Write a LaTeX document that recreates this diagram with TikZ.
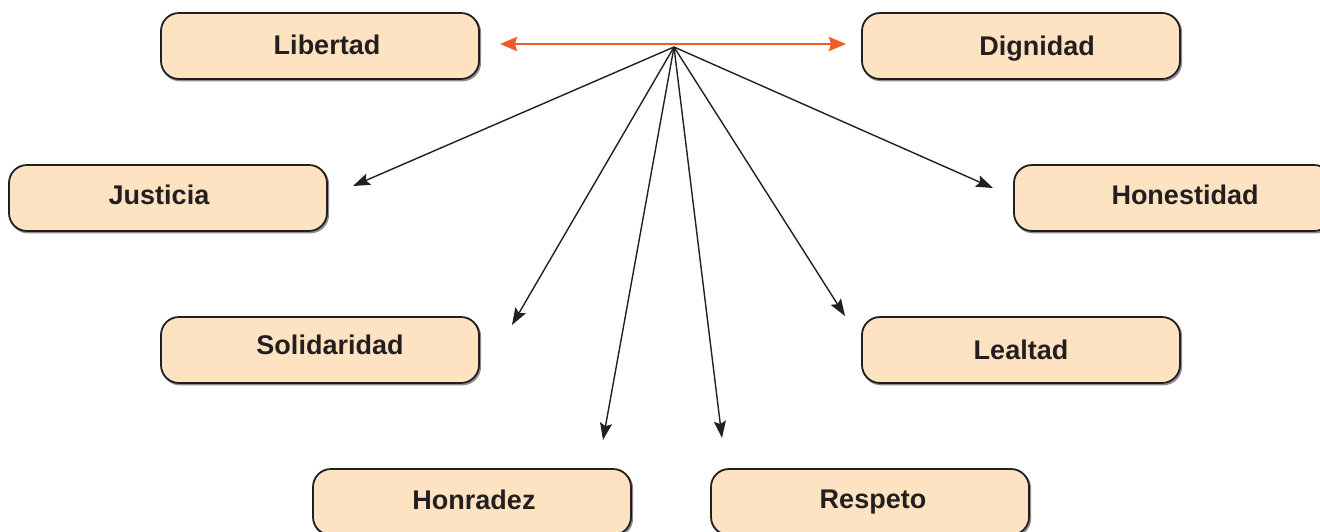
\documentclass[tikz,border=0pt]{standalone}
\usepackage{fontspec}
\setmainfont{Liberation Sans}
\usetikzlibrary{arrows.meta}
\definecolor{boxfill}{HTML}{FDE3C1}
\definecolor{ink}{HTML}{231F20}
\definecolor{redline}{HTML}{F15A29}
\tikzset{
  valbox/.style={draw=ink, line width=1.8pt, fill=boxfill, rounded corners=18pt,
    minimum width=318pt, minimum height=66pt, inner sep=0pt, outer sep=0pt,
    preaction={draw=black!45, line width=1.8pt, transform canvas={shift={(1.2pt,-1.5pt)}}}},
  valtxt/.style={text=ink, font=\fontsize{27}{32}\selectfont\bfseries, inner sep=0pt, anchor=base},
  blackarrow/.style={draw=ink, line width=1.4pt, -{Stealth[length=17pt,width=12pt,inset=3pt]}},
  redarrow/.style={draw=redline, line width=2.6pt, {Stealth[length=17pt,width=14pt,inset=2pt]}-{Stealth[length=17pt,width=14pt,inset=2pt]}}
}
\begin{document}
\begin{tikzpicture}[x=1pt,y=-1pt]
\useasboundingbox (0,0) rectangle (1320,531);
% boxes
\node[valbox] (lib) at (320,46) {};
\node[valtxt] (libt) at (327,54) {Libertad};
\node[valbox] (dig) at (1021,46) {};
\node[valtxt] (digt) at (1037,55) {Dignidad};
\node[valbox] (jus) at (168,198) {};
\node[valtxt] (just) at (159,204) {Justicia};
\node[valbox] (hon) at (1173,198) {};
\node[valtxt] (hont) at (1185,204) {Honestidad};
\node[valbox] (sol) at (320,350) {};
\node[valtxt] (solt) at (330,354) {Solidaridad};
\node[valbox] (lea) at (1021,350) {};
\node[valtxt] (leat) at (1021,359) {Lealtad};
\node[valbox] (hra) at (472,502) {};
\node[valtxt] (hrat) at (474,509) {Honradez};
\node[valbox] (res) at (870,502) {};
\node[valtxt] (rest) at (873,508) {Respeto};
% hub and arrow tips
\coordinate (hub) at (674,47);
\coordinate (redL) at (500,44);
\coordinate (redR) at (846,44);
\coordinate (tJus) at (353,186);
\coordinate (tSol) at (512,325);
\coordinate (tHra) at (603,440);
\coordinate (tRes) at (722,438);
\coordinate (tLea) at (845,316);
\coordinate (tHon) at (993,188);
\draw[redarrow] (redL) -- (redR);
\foreach \t in {tJus,tSol,tHra,tRes,tLea,tHon}
  \draw[blackarrow] (hub) -- (\t);
\end{tikzpicture}
\end{document}
